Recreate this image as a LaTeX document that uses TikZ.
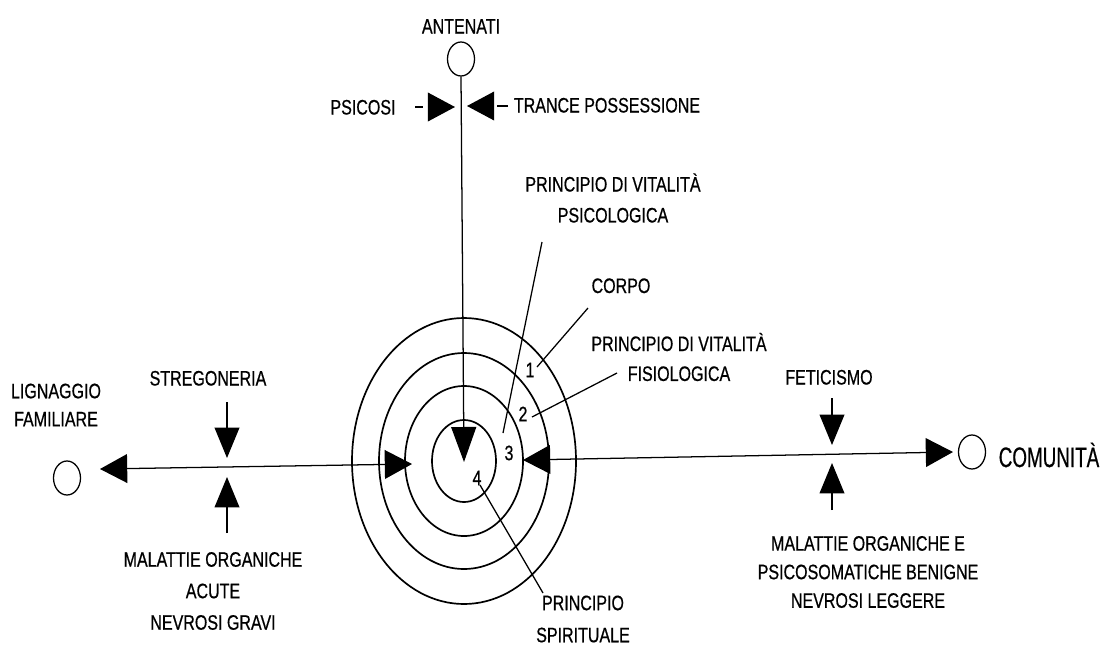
\documentclass[tikz,border=0pt]{standalone}
\usepackage{fontspec}
\setmainfont[FakeStretch=0.765,FakeBold=0.6]{Liberation Sans}
\newfontfamily\comfont[FakeStretch=0.67,FakeBold=0.6]{Liberation Sans}
\usetikzlibrary{arrows.meta,shapes.geometric}

\tikzset{
  lbl/.style={font=\fontsize{14.9}{#1}\selectfont, inner sep=0pt, align=center},
  lbl/.default=22,
  spot/.style={draw, ellipse, inner sep=0pt, minimum width=0.675cm, minimum height=0.85cm, line width=0.9pt},
  ring/.style={line width=1.2pt},
  wire/.style={line width=0.9pt},
  fat/.tip={Triangle[length=0.68cm,width=0.72cm]},
  fatV/.tip={Triangle[length=0.76cm,width=0.62cm]},
  fatC/.tip={Triangle[length=0.875cm,width=0.625cm]},
}

\begin{document}
\begin{tikzpicture}[x=0.025cm, y=-0.025cm]
  % frame 1106 x 646, y runs downwards
  \useasboundingbox (0,0) rectangle (1106,646);

  % Rings
  \coordinate (ctr) at (464,461);
  \foreach \rx/\ry in {32/41, 59/75, 85/108, 112/143}{
    \draw[ring] (ctr) ellipse ({\rx} and {\ry});
  }
  \foreach \n/\x/\y in {1/530/370, 2/523/414, 3/509/453, 4/477/478}{
    \node[lbl] (n\n) at (\x,\y) {\n};
  }

  % Ring labels
  \node[lbl] (psicol) at (613,198) {PRINCIPIO DI VITALITÀ\\PSICOLOGICA};
  \node[lbl, anchor=base] (corpo) at (621,293) {CORPO};
  \node[lbl=21.3] (fisio) at (679,357) {PRINCIPIO DI VITALITÀ\\FISIOLOGICA};
  \node[lbl=22.8] (spirit) at (583,619) {PRINCIPIO\\SPIRITUALE};
  \foreach \nm/\ax/\ay/\bx/\by in {psicol/542/242/503/433, corpo/588/308/537/367,
      fisio/617/373/532/417, spirit/543/593/480/485}{
    \coordinate (\nm A) at (\ax,\ay);
    \coordinate (\nm B) at (\bx,\by);
    \draw[wire] (\nm A) -- (\nm B);
  }

  % Antenati
  \node[lbl, anchor=base] (ant) at (461,33.5) {ANTENATI};
  \node[spot] (antc) at (461,59) {};
  \coordinate (tipC) at (464,462);
  \draw[wire, -fatC] (antc.south) -- (tipC);
  \node[lbl, anchor=base] (psi) at (363,114.5) {PSICOSI};
  \node[lbl, anchor=base] (trance) at (607,112.5) {TRANCE POSSESSIONE};
  \coordinate (psiA) at (415,107);
  \coordinate (psiB) at (455,107);
  \draw[wire, dash pattern=on 5.7pt off 20pt, -fat] (psiA) -- (psiB);
  \coordinate (trA) at (508,106);
  \coordinate (trB) at (467,106);
  \draw[wire, dash pattern=on 7.8pt off 20pt, -fat] (trA) -- (trB);

  % Lignaggio
  \node[lbl=20] (lig) at (56,405) {LIGNAGGIO\\FAMILIARE};
  \node[spot] (ligc) at (67,478) {};
  \coordinate (tipL) at (100,469);
  \coordinate (tipR) at (412,464);
  \draw[wire, fat-fat] (tipL) -- (tipR);
  \node[lbl, anchor=base] (streg) at (208,385.5) {STREGONERIA};
  \coordinate (sgA) at (227,402);
  \coordinate (sgB) at (227,458);
  \draw[wire, -fatV] (sgA) -- (sgB);
  \node[lbl=22.4] (malL) at (213,591) {MALATTIE ORGANICHE\\ACUTE\\NEVROSI GRAVI};
  \coordinate (mlA) at (227,533);
  \coordinate (mlB) at (227,477);
  \draw[wire, -fatV] (mlA) -- (mlB);

  % Comunita
  \coordinate (tipR2) at (523,460);
  \coordinate (tipCom) at (953,452);
  \draw[wire, fat-fat] (tipR2) -- (tipCom);
  \node[spot] (comc) at (972,452) {};
  \node[lbl, anchor=base, font=\comfont\fontsize{20}{24}\selectfont] (com) at (1049,467) {COMUNITÀ};
  \node[lbl, anchor=base] (fet) at (829,384.5) {FETICISMO};
  \coordinate (ftA) at (832,398);
  \coordinate (ftB) at (832,445);
  \draw[wire, -fatV] (ftA) -- (ftB);
  \node[lbl=20.3] (malR) at (868,572) {MALATTIE ORGANICHE E\\PSICOSOMATICHE BENIGNE\\NEVROSI LEGGERE};
  \coordinate (mrA) at (832,510);
  \coordinate (mrB) at (832,463);
  \draw[wire, -fatV] (mrA) -- (mrB);
\end{tikzpicture}
\end{document}
